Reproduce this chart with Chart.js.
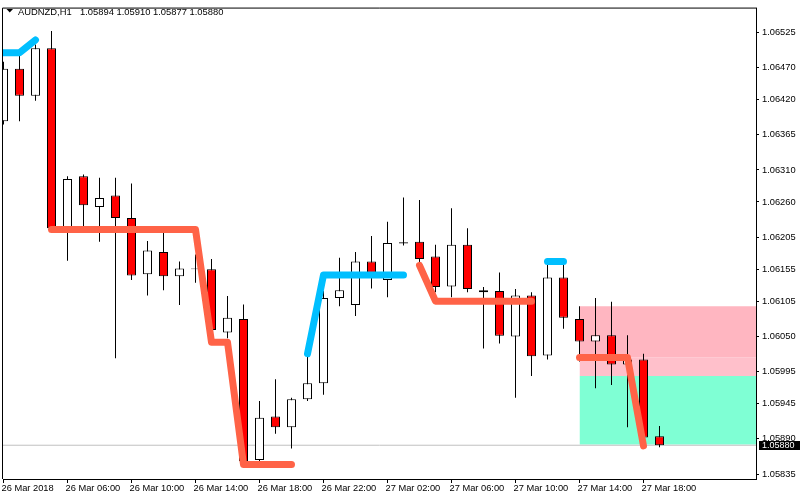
<!DOCTYPE html>
<html lang="en">
<head>
<meta charset="UTF-8">
<title>AUDNZD,H1</title>
<script src="https://cdn.jsdelivr.net/npm/chart.js@4.4.1/dist/chart.umd.min.js"></script>
<style>
    body { margin: 0; background: #fff; }
    canvas { display: block; }
</style>
</head>
<body>
<canvas id="chart" width="800" height="500"></canvas>
<script>
    // AUDNZD H1 bars, one per hour from 26 Mar 02:00
    const opens  = [1.06386, 1.06468, 1.06426, 1.06500, 1.06219, 1.06300, 1.06252, 1.06270, 1.06235, 1.06147,
                    1.06182, 1.06144, 1.06156, 1.06155, 1.06056, 1.06077, 1.05857, 1.05925, 1.05908, 1.05952,
                    1.05977, 1.06110, 1.06099, 1.06167, 1.06138, 1.06197, 1.06198, 1.06175, 1.06128, 1.06193,
                    1.06122, 1.06121, 1.06050, 1.06114, 1.06020, 1.06142, 1.06077, 1.06042, 1.06052, 1.06006,
                    1.06014, 1.05894];
    const highs  = [1.06479, 1.06494, 1.06506, 1.06527, 1.06300, 1.06303, 1.06298, 1.06298, 1.06289, 1.06199,
                    1.06213, 1.06167, 1.06178, 1.06171, 1.06113, 1.06100, 1.05949, 1.05983, 1.05954, 1.06019,
                    1.06121, 1.06173, 1.06182, 1.06207, 1.06229, 1.06267, 1.06263, 1.06193, 1.06250, 1.06219,
                    1.06127, 1.06150, 1.06124, 1.06119, 1.06162, 1.06167, 1.06097, 1.06110, 1.06104, 1.06052,
                    1.06023, 1.05910];
    const lows   = [1.06381, 1.06386, 1.06418, 1.06217, 1.06168, 1.06215, 1.06198, 1.06016, 1.06138, 1.06114,
                    1.06122, 1.06099, 1.06134, 1.06057, 1.06047, 1.05852, 1.05854, 1.05898, 1.05875, 1.05949,
                    1.05959, 1.06097, 1.06082, 1.06125, 1.06111, 1.06192, 1.06165, 1.06119, 1.06111, 1.06119,
                    1.06031, 1.06039, 1.05954, 1.05988, 1.06014, 1.06062, 1.06011, 1.05969, 1.05974, 1.05908,
                    1.05887, 1.05877];
    const closes = [1.06468, 1.06426, 1.06500, 1.06219, 1.06296, 1.06255, 1.06266, 1.06235, 1.06145, 1.06184,
                    1.06144, 1.06156, 1.06155, 1.06060, 1.06079, 1.05855, 1.05923, 1.05908, 1.05952, 1.05977,
                    1.06110, 1.06122, 1.06167, 1.06147, 1.06196, 1.06195, 1.06171, 1.06127, 1.06193, 1.06124,
                    1.06119, 1.06051, 1.06114, 1.06019, 1.06142, 1.06079, 1.06042, 1.06052, 1.06006, 1.06014,
                    1.05892, 1.05880];

    // indicator lines (null = no line on that bar)
    const upLine = [1.06493, 1.06493, 1.06513, null, null, null, null, null, null, null,
                    null, null, null, null, null, null, null, null, null, 1.06023,
                    1.06146, 1.06146, 1.06146, 1.06146, 1.06146, 1.06146, null, null, null, null,
                    null, null, null, null, 1.06167, 1.06167, null, null, null, null,
                    null, null];
    const downLine = [null, null, null, 1.06217, 1.06217, 1.06217, 1.06217, 1.06217, 1.06217, 1.06217,
                      1.06217, 1.06217, 1.06217, 1.06041, 1.06041, 1.05850, 1.05850, 1.05850, 1.05850, null,
                      null, null, null, null, null, null, 1.06161, 1.06105, 1.06105, 1.06105,
                      1.06105, 1.06105, 1.06105, 1.06105, null, null, 1.06017, 1.06017, 1.06017, 1.06017,
                      1.05879, null];

    // zones (start bar, upper price, lower price)
    const zoneFrom   = [36, 36, 36];
    const zoneTop    = [1.06097, 1.06017, 1.05988];
    const zoneBottom = [1.06017, 1.05988, 1.05881];
    const zoneColors = ['#FFB6C1', '#FFC0CB', '#7FFFD4'];

    const bid = 1.05880;

    const xTickBars = [0, 4, 8, 12, 16, 20, 24, 28, 32, 36, 40];
    const xLabels = ['26 Mar 2018', '26 Mar 06:00', '26 Mar 10:00', '26 Mar 14:00', '26 Mar 18:00',
                     '26 Mar 22:00', '27 Mar 02:00', '27 Mar 06:00', '27 Mar 10:00', '27 Mar 14:00', '27 Mar 18:00'];
    const yTicks = [1.06525, 1.06470, 1.06420, 1.06365, 1.06310, 1.06260, 1.06205, 1.06155,
                    1.06105, 1.06050, 1.05995, 1.05945, 1.05890, 1.05835];

    const symbolText = 'AUDNZD,H1';
    const last = opens.length - 1;
    const ohlcText = [opens[last], highs[last], lows[last], closes[last]].map(v => v.toFixed(5)).join(' ');

    // visible range: 16px per bar
    const X_MIN = -0.03125;
    const X_MAX = 47.03125;
    const Y_MIN = 1.0582728;
    const Y_MAX = 1.0656205;

    Chart.defaults.font.family = '"Liberation Sans", Arial, sans-serif';
    Chart.defaults.color = '#000';

    const overlay = {
        id: 'overlay',
        afterDraw(chart) {
            const ctx = chart.ctx;
            const area = chart.chartArea;
            const yScale = chart.scales.y;
            ctx.save();
            // frame top and left
            ctx.strokeStyle = '#000';
            ctx.lineWidth = 1;
            ctx.beginPath();
            ctx.moveTo(area.left - 0.5, area.bottom);
            ctx.lineTo(area.left - 0.5, area.top - 0.5);
            ctx.lineTo(area.right + 1, area.top - 0.5);
            ctx.stroke();

            // header
            ctx.fillStyle = '#000';
            ctx.beginPath();
            ctx.moveTo(6.5, 9);
            ctx.lineTo(13, 9);
            ctx.lineTo(9.75, 12.5);
            ctx.closePath();
            ctx.fill();
            ctx.font = '9.4px "Liberation Sans", Arial, sans-serif';
            ctx.textBaseline = 'alphabetic';
            ctx.fillText(symbolText, 18, 14.5);
            ctx.fillText(ohlcText, 80, 14.5);

            // bid price label
            const by = yScale.getPixelForValue(bid);
            ctx.fillRect(759, Math.round(by) - 4, 41, 9);
            ctx.fillStyle = '#fff';
            ctx.font = '9px "Liberation Sans", Arial, sans-serif';
            ctx.textBaseline = 'middle';
            ctx.fillText(bid.toFixed(5), 762, by + 0.5);
            ctx.restore();
        }
    };

    const datasets = [];

    zoneTop.forEach((top, i) => {
        datasets.push({
            type: 'line',
            data: [{ x: zoneFrom[i], y: top }, { x: X_MAX, y: top }],
            fill: { value: zoneBottom[i] },
            backgroundColor: zoneColors[i],
            borderColor: 'rgba(0,0,0,0)',
            borderWidth: 0,
            pointRadius: 0,
            order: 20 + i,
            clip: 0
        });
    });

    datasets.push({
        type: 'line',
        data: [{ x: X_MIN, y: bid }, { x: X_MAX, y: bid }],
        borderColor: '#C0C0C0',
        borderWidth: 1,
        pointRadius: 0,
        order: 15,
        clip: 0
    });

    // wicks
    datasets.push({
        type: 'bar',
        data: opens.map((o, k) => ({ x: k, y: [lows[k], highs[k]] })),
        backgroundColor: '#000',
        borderWidth: 0,
        barThickness: 1,
        grouped: false,
        inflateAmount: 0,
        order: 6,
        clip: 0
    });

    // bodies
    datasets.push({
        type: 'bar',
        data: opens.map((o, k) => ({ x: k, y: [o, closes[k]] })),
        backgroundColor: opens.map((o, k) => closes[k] < o ? '#FF0000' : '#FFFFFF'),
        borderColor: '#000',
        borderWidth: 1,
        borderSkipped: false,
        barThickness: 9,
        grouped: false,
        inflateAmount: 0,
        order: 5,
        clip: 0
    });

    datasets.push({
        type: 'line',
        data: downLine.map((v, k) => ({ x: k, y: v })),
        borderColor: '#FF6347',
        borderWidth: 7,
        borderCapStyle: 'round',
        borderJoinStyle: 'round',
        pointRadius: 0,
        tension: 0,
        spanGaps: false,
        order: 2,
        clip: 0
    });

    datasets.push({
        type: 'line',
        data: upLine.map((v, k) => ({ x: k, y: v })),
        borderColor: '#00BFFF',
        borderWidth: 7,
        borderCapStyle: 'round',
        borderJoinStyle: 'round',
        pointRadius: 0,
        tension: 0,
        spanGaps: false,
        order: 1,
        clip: 0
    });

    new Chart(document.getElementById('chart'), {
        type: 'bar',
        data: { datasets },
        options: {
            responsive: false,
            devicePixelRatio: 1,
            animation: false,
            events: [],
            layout: { padding: { left: 3, top: 3, right: 0, bottom: 0 } },
            plugins: {
                legend: { display: false },
                tooltip: { enabled: false }
            },
            scales: {
                x: {
                    type: 'linear',
                    min: X_MIN,
                    max: X_MAX,
                    offset: false,
                    afterBuildTicks: s => { s.ticks = xTickBars.map(v => ({ value: v })); },
                    afterFit: s => { s.height = 21; },
                    grid: { drawOnChartArea: false, drawTicks: true, tickLength: 4, color: '#000', offset: false },
                    border: { display: true, color: '#000' },
                    ticks: {
                        align: 'start',
                        labelOffset: -2,
                        padding: 0,
                        maxRotation: 0,
                        autoSkip: false,
                        font: { size: 9.3 },
                        callback: (v, i) => xLabels[i]
                    }
                },
                y: {
                    type: 'linear',
                    position: 'right',
                    min: Y_MIN,
                    max: Y_MAX,
                    afterBuildTicks: s => { s.ticks = yTicks.map(v => ({ value: v })); },
                    afterFit: s => { s.width = 44; },
                    grid: { drawOnChartArea: false, drawTicks: true, tickLength: 3, color: '#000' },
                    border: { display: true, color: '#000' },
                    ticks: {
                        padding: 3,
                        crossAlign: 'near',
                        font: { size: 9.3 },
                        callback: v => v.toFixed(5)
                    }
                }
            }
        },
        plugins: [overlay]
    });
</script>
</body>
</html>
